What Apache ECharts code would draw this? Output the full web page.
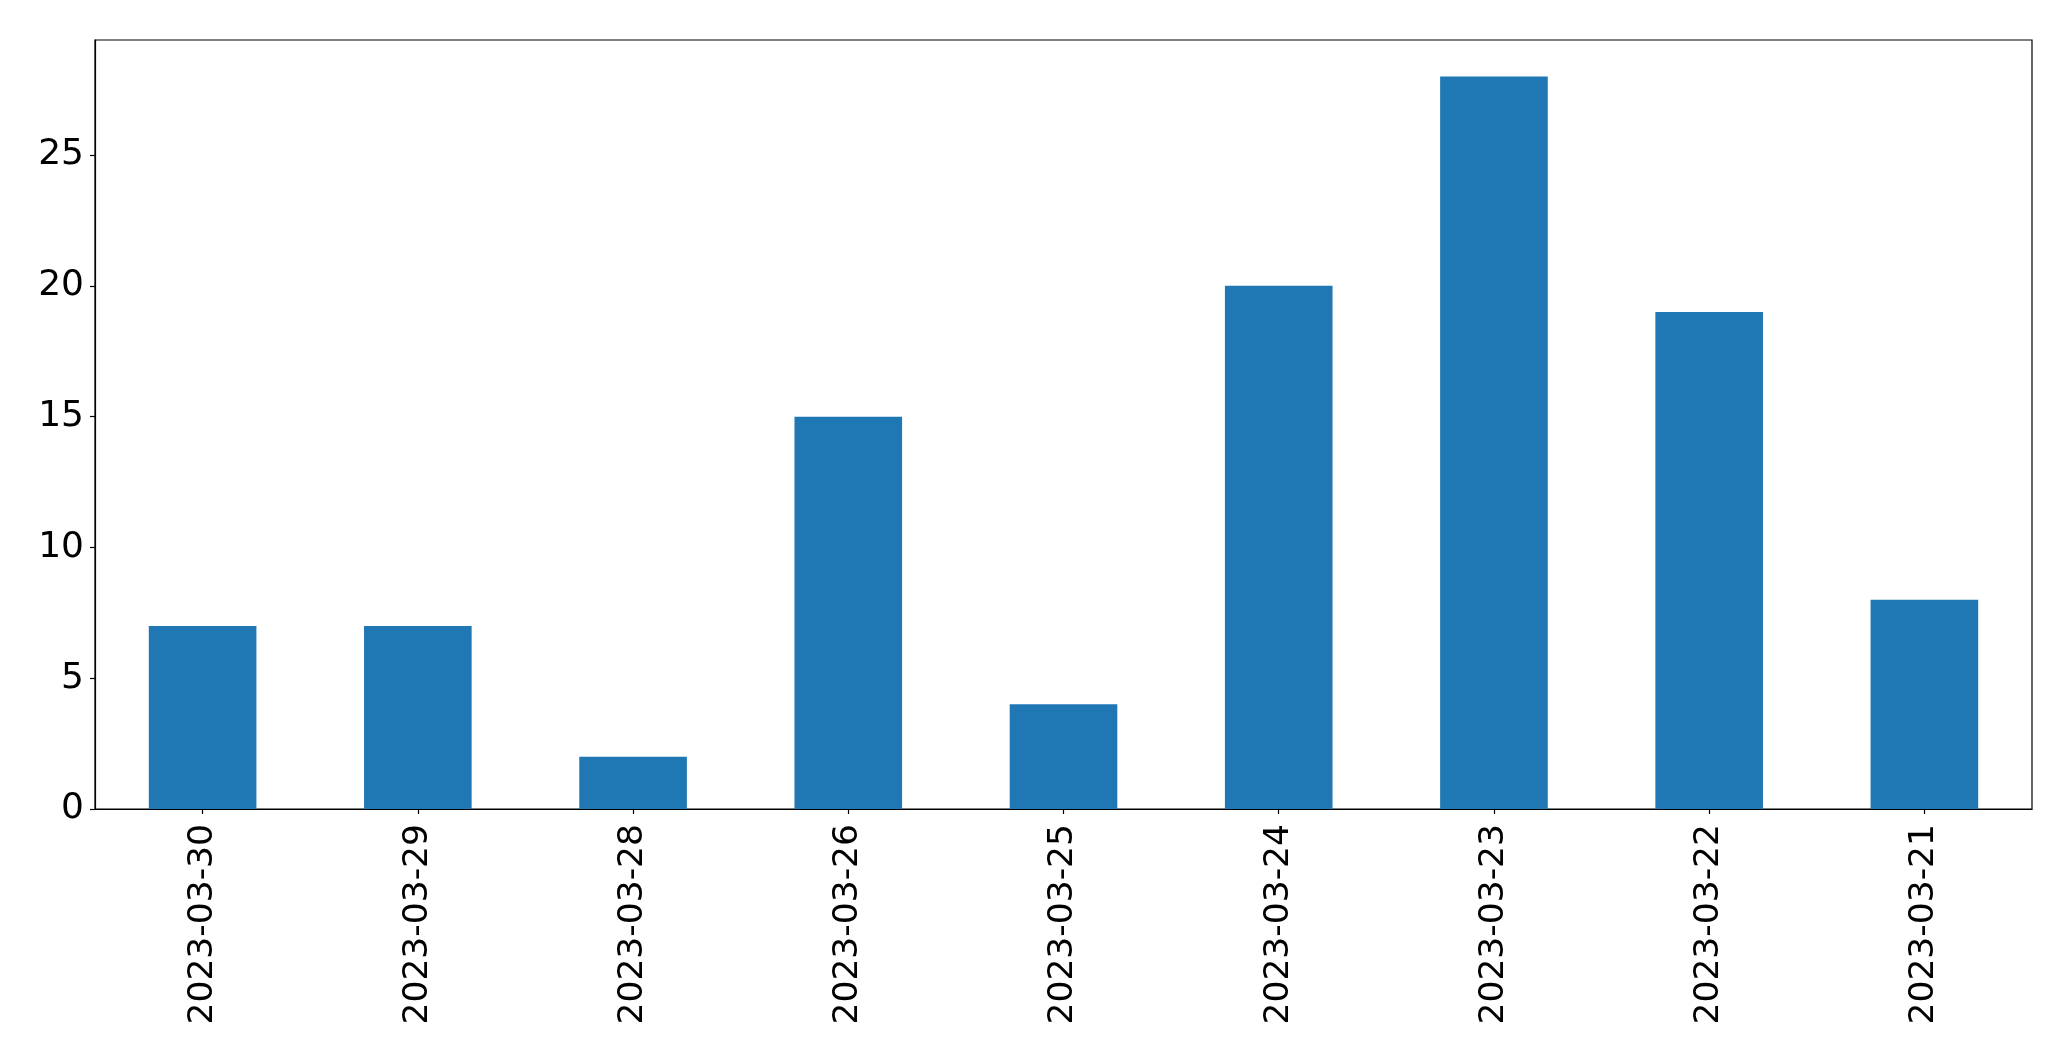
<!DOCTYPE html>
<html>
<head>
<meta charset="utf-8">
<script src="https://cdn.jsdelivr.net/npm/echarts@6/dist/echarts.min.js"></script>
<style>
html,body{margin:0;padding:0;background:#fff;}
#chart{width:2071px;height:1061px;}
</style>
</head>
<body>
<div id="chart"></div>
<script>
const categories = ['2023-03-30','2023-03-29','2023-03-28','2023-03-26','2023-03-25','2023-03-24','2023-03-23','2023-03-22','2023-03-21'];
const values = [7, 7, 2, 15, 4, 20, 28, 19, 8];
const yTicks = [0, 5, 10, 15, 20, 25];

const chart = echarts.init(document.getElementById('chart'), null, {renderer: 'canvas'});
const font = 'DejaVu Sans';
chart.setOption({
  animation: false,
  backgroundColor: '#ffffff',
  grid: {
    left: 95, right: 39, top: 40, bottom: 252,
    show: true, borderColor: '#000000', borderWidth: 1.2, backgroundColor: 'transparent'
  },
  xAxis: {
    type: 'category',
    data: categories,
    axisLine: {show: true, lineStyle: {color: '#000', width: 1.2}},
    axisTick: {show: true, alignWithLabel: true, length: 5, lineStyle: {color: '#000', width: 1.2}},
    axisLabel: {rotate: 90, fontFamily: font, fontSize: 34.5, color: '#000', margin: 15, interval: 0},
    splitLine: {show: false}
  },
  yAxis: {
    type: 'value',
    min: 0, max: 29.4, interval: 5,
    axisLine: {show: true, lineStyle: {color: '#000', width: 1.2}},
    axisTick: {show: true, length: 5, lineStyle: {color: '#000', width: 1.2}},
    axisLabel: {
      fontFamily: font, fontSize: 36, color: '#000', margin: 11,
      showMaxLabel: false,
      formatter: v => yTicks.includes(v) ? String(v) : ''
    },
    splitLine: {show: false}
  },
  series: [{
    type: 'bar',
    data: values,
    barWidth: '50%',
    itemStyle: {color: '#1f77b4'}
  }]
});
</script>
</body>
</html>
